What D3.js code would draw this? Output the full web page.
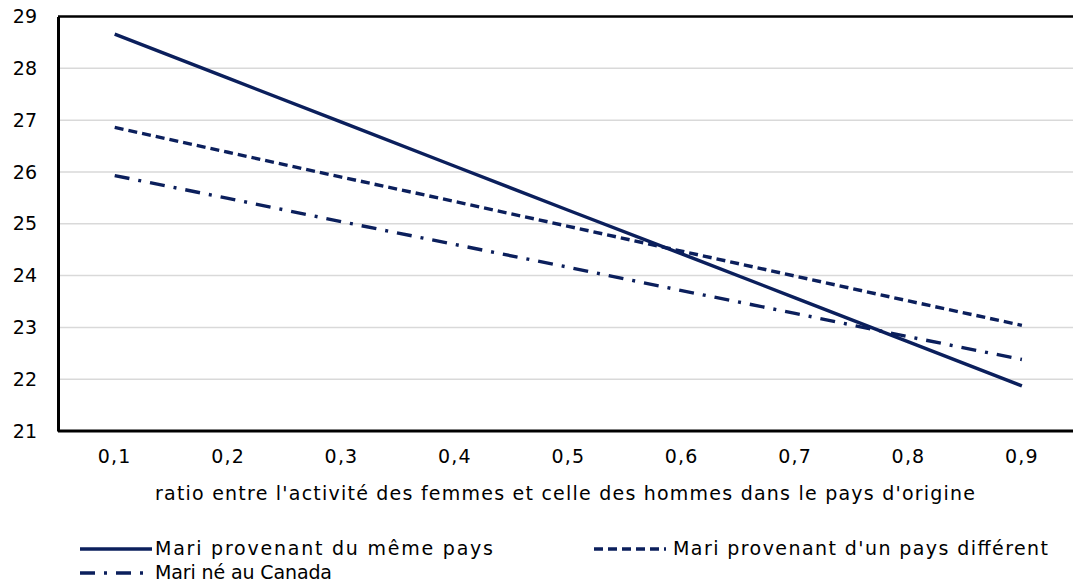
<!DOCTYPE html>
<html lang="fr">
<head>
<meta charset="UTF-8">
<title>Ratio activité femmes / hommes</title>
<script src="https://d3js.org/d3.v7.min.js"></script>
<style>
  body { margin: 0; background: #fff; }
  svg text { font-family: "DejaVu Sans", Verdana, sans-serif; font-size: 19px; fill: #000; }
</style>
</head>
<body>
<div id="chart"></div>
<script>
// data
const ratios = ["0,1", "0,2", "0,3", "0,4", "0,5", "0,6", "0,7", "0,8", "0,9"];
const memePays = [28.66, 27.81, 26.96, 26.11, 25.26, 24.42, 23.57, 22.72, 21.87];
const paysDifferent = [26.86, 26.38, 25.90, 25.43, 24.95, 24.47, 23.99, 23.51, 23.04];
const neCanada = [25.93, 25.49, 25.04, 24.60, 24.16, 23.71, 23.27, 22.82, 22.38];
const yTicks = [21, 22, 23, 24, 25, 26, 27, 28, 29];

const series = [
  { name: "Mari provenant du même pays", values: memePays, dash: null },
  { name: "Mari provenant d'un pays différent", values: paysDifferent, dash: "9,5" },
  { name: "Mari né au Canada", values: neCanada, dash: "15,9,3,9" }
];

const width = 1073, height = 586;
const plotLeft = 58, plotTop = 16.5, plotBottom = 431;
const plotRight = plotLeft + 9 * 113.4;   // last band runs a bit past the frame
const navy = "#0b1f5c";

const svg = d3.select("#chart").append("svg")
  .attr("width", width)
  .attr("height", height);

const x = d3.scaleBand().domain(ratios).range([plotLeft, plotRight]);
const y = d3.scaleLinear().domain([21, 29]).range([plotBottom, plotTop]);

// gridlines
svg.append("g")
  .selectAll("line")
  .data(yTicks.filter(d => d > 21 && d < 29))
  .join("line")
  .attr("x1", plotLeft).attr("x2", width)
  .attr("y1", d => y(d)).attr("y2", d => y(d))
  .attr("stroke", "#d9d9d9")
  .attr("stroke-width", 1.5);

// top frame line
svg.append("line")
  .attr("x1", plotLeft).attr("x2", width)
  .attr("y1", y(29)).attr("y2", y(29))
  .attr("stroke", "#000").attr("stroke-width", 2.5);

// y axis
const yAxis = svg.append("g")
  .attr("transform", `translate(${plotLeft},0)`)
  .call(d3.axisLeft(y).tickValues(yTicks).tickSize(0).tickPadding(21));
yAxis.select(".domain").attr("stroke", "#000").attr("stroke-width", 3);

// x axis
const xAxis = svg.append("g")
  .attr("transform", `translate(0,${plotBottom})`)
  .call(d3.axisBottom(x).tickSize(0).tickPadding(19));
xAxis.select(".domain").attr("d", `M${plotLeft},0H${width}`).attr("stroke", "#000").attr("stroke-width", 3);
xAxis.selectAll("text").style("letter-spacing", "1.2px");

// axis title
svg.append("text")
  .attr("x", 565).attr("y", 500)
  .attr("text-anchor", "middle")
  .attr("textLength", 820)
  .attr("lengthAdjust", "spacing")
  .text("ratio entre l'activité des femmes et celle des hommes dans le pays d'origine");

// lines
const line = d3.line()
  .x((d, i) => x(ratios[i]) + x.bandwidth() / 2)
  .y(d => y(d));

svg.append("g")
  .selectAll("path")
  .data(series)
  .join("path")
  .attr("d", d => line(d.values))
  .attr("fill", "none")
  .attr("stroke", navy)
  .attr("stroke-width", 3.4)
  .attr("stroke-dasharray", d => d.dash);

// legend
const legendPos = [
  { lx: 80, tx: 155, ty: 555, w: 338 },
  { lx: 594, tx: 673, ty: 555, w: 375 },
  { lx: 80, tx: 155, ty: 579, w: 177 }
];
const legend = svg.append("g")
  .selectAll("g")
  .data(series)
  .join("g");

legend.append("line")
  .attr("x1", (d, i) => legendPos[i].lx)
  .attr("x2", (d, i) => legendPos[i].lx + 72)
  .attr("y1", (d, i) => legendPos[i].ty - 6)
  .attr("y2", (d, i) => legendPos[i].ty - 6)
  .attr("stroke", navy)
  .attr("stroke-width", 3.4)
  .attr("stroke-dasharray", d => d.dash);

legend.append("text")
  .attr("x", (d, i) => legendPos[i].tx)
  .attr("y", (d, i) => legendPos[i].ty)
  .attr("textLength", (d, i) => legendPos[i].w)
  .attr("lengthAdjust", "spacing")
  .text(d => d.name);
</script>
</body>
</html>
